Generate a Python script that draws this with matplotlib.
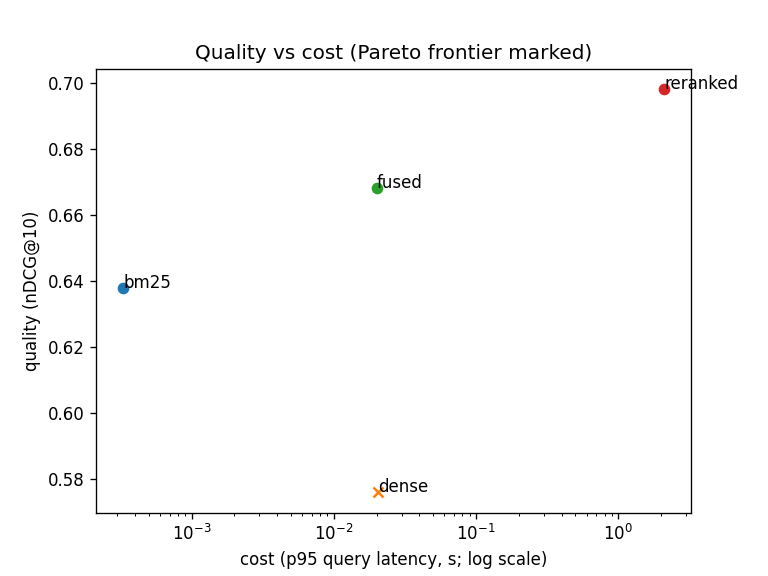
import numpy as np
import matplotlib
matplotlib.use("Agg")
import matplotlib.pyplot as plt

# retrieval configs: p95 latency (s) vs nDCG@10
names = ["bm25", "dense", "fused", "reranked"]
cost = [0.00033, 0.0205, 0.02, 2.1]
quality = [0.638, 0.576, 0.668, 0.698]
on_frontier = [True, False, True, True]

fig, ax = plt.subplots(figsize=(6.4, 4.8), dpi=120)

for i, name in enumerate(names):
    marker = "o" if on_frontier[i] else "x"
    ax.scatter(cost[i], quality[i], marker=marker, color="C%d" % i)
    ax.annotate(name, (cost[i], quality[i]))

ax.set_xscale("log")
ax.set_xlabel("cost (p95 query latency, s; log scale)")
ax.set_ylabel("quality (nDCG@10)")
ax.set_title("Quality vs cost (Pareto frontier marked)")

fig.savefig("out.png")
